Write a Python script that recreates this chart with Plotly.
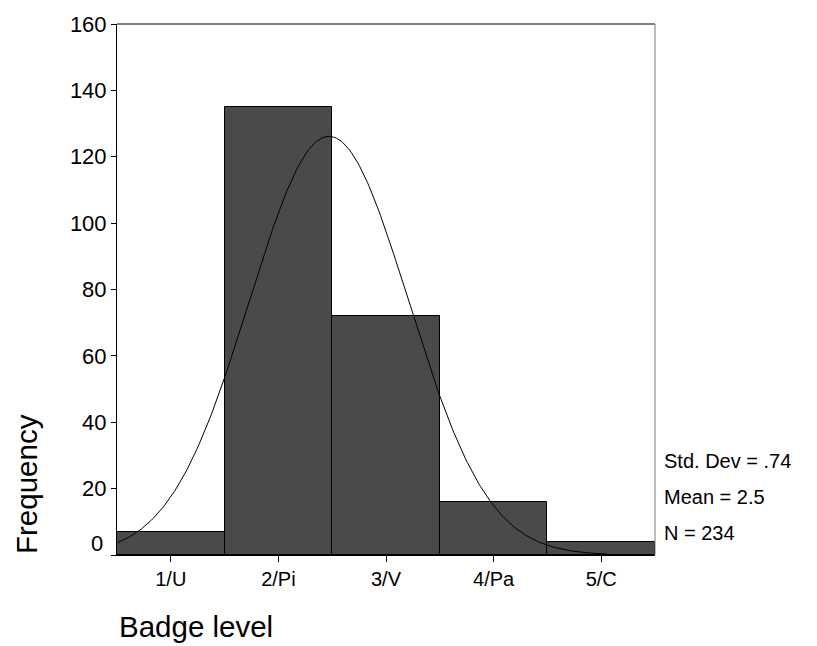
import numpy as np
import plotly.graph_objects as go

categories = ["1/U", "2/Pi", "3/V", "4/Pa", "5/C"]
levels = [1, 2, 3, 4, 5]
frequency = [7, 135, 72, 16, 4]
std_dev = 0.74
mean = 2.47
n_total = 234
stats_text = ["Std. Dev = .74", "Mean = 2.5", "N = 234"]
stats_y = [28.3, 17.5, 6.7]
y_ticks = [0, 20, 40, 60, 80, 100, 120, 140, 160]

FONT = "Arial, Liberation Sans, sans-serif"

fig = go.Figure()
fig.add_trace(go.Bar(
    x=levels, y=frequency, width=1,
    marker=dict(color="#4a4a4a", line=dict(color="#000000", width=1)),
    hoverinfo="skip", showlegend=False,
))

xc = np.linspace(0.5, 5.05, 300)
yc = n_total * 1.0 / (std_dev * np.sqrt(2 * np.pi)) * np.exp(-0.5 * ((xc - mean) / std_dev) ** 2)
fig.add_trace(go.Scatter(x=xc, y=yc, mode="lines", line=dict(color="#000000", width=1),
                         hoverinfo="skip", showlegend=False))

fig.update_layout(
    width=817, height=646,
    margin=dict(l=117, r=162, t=18, b=91),
    paper_bgcolor="white", plot_bgcolor="white",
    font=dict(family=FONT, color="#000000"),
    bargap=0,
    xaxis=dict(range=[0.5, 5.5], tickvals=levels, ticktext=categories,
               ticks="outside", ticklen=6, tickcolor="#000", showgrid=False, zeroline=False,
               showline=True, linecolor="#000", linewidth=1,
               tickfont=dict(size=20, family=FONT)),
    yaxis=dict(range=[0, 160], tickvals=y_ticks,
               ticktext=["" if v == 0 else str(v) for v in y_ticks],
               ticks="outside", ticklen=5, tickcolor="#000", showgrid=False, zeroline=False,
               showline=True, linecolor="#000", linewidth=1,
               tickfont=dict(size=22, family=FONT)),
    shapes=[
        dict(type="line", xref="paper", yref="paper", x0=0, x1=1, y0=1, y1=1,
             line=dict(color="#000000", width=1)),
        dict(type="line", xref="paper", yref="paper", x0=1, x1=1, y0=0, y1=1,
             line=dict(color="#7a7a7a", width=1)),
    ],
)

# SPSS raises the "0" label above the axis corner
fig.add_annotation(text="0", xref="paper", yref="y", x=-0.0225, y=3.4,
                   showarrow=False, font=dict(size=22, family=FONT),
                   xanchor="right", yanchor="middle")
fig.add_annotation(text="Frequency", xref="paper", yref="paper", x=-0.167, y=0.134,
                   textangle=-90, showarrow=False, font=dict(size=29.5, family=FONT),
                   xanchor="center", yanchor="middle")
fig.add_annotation(text="Badge level", xref="paper", yref="paper", x=0.0, y=-0.1354,
                   showarrow=False, font=dict(size=29.5, family=FONT),
                   xanchor="left", yanchor="middle")
for t, yv in zip(stats_text, stats_y):
    fig.add_annotation(text=t, xref="paper", yref="y", x=1.013, y=yv,
                       showarrow=False, font=dict(size=20, family=FONT),
                       xanchor="left", yanchor="middle")

fig.write_html("out.html")
